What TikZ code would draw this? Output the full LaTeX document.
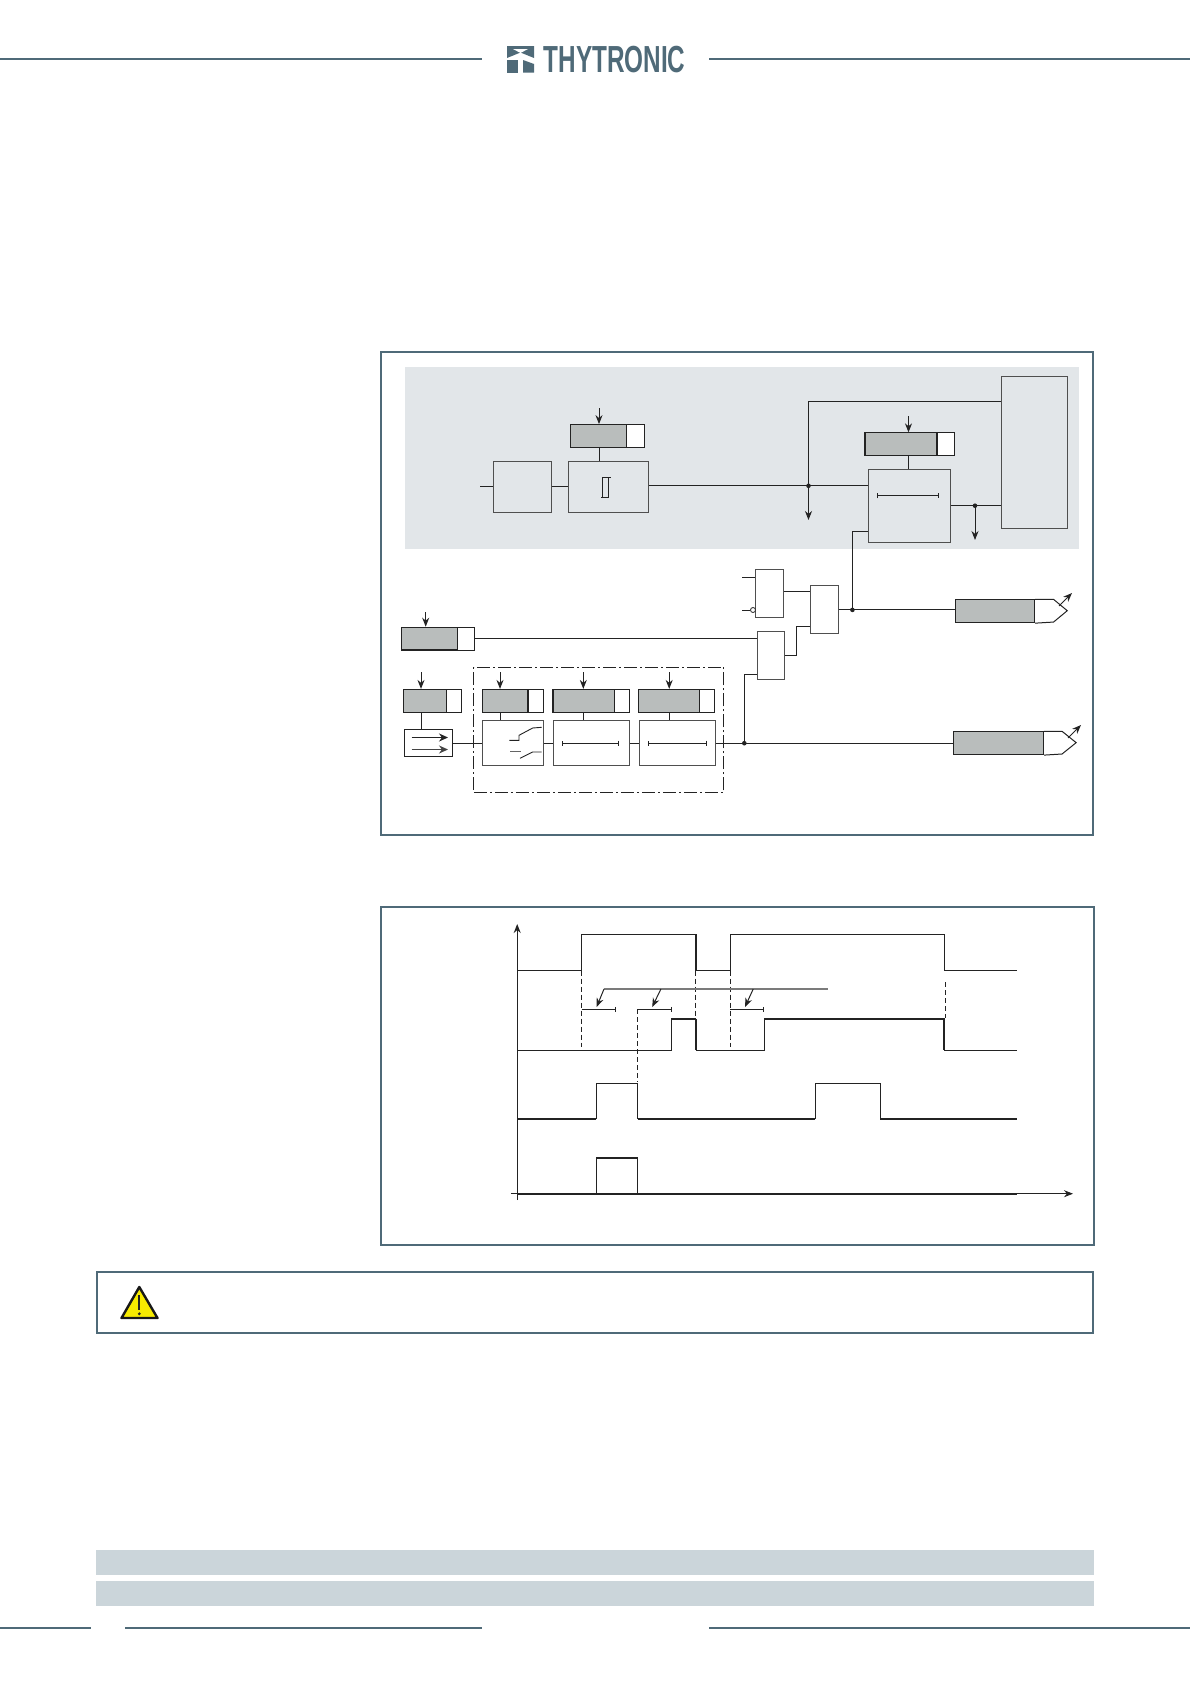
\documentclass[tikz,border=0pt]{standalone}
\usepackage{fontspec}
\setmainfont{Liberation Sans}
\usetikzlibrary{arrows.meta, positioning}
\definecolor{thyslate}{RGB}{79,106,120}
\definecolor{thypanel}{RGB}{226,230,233}
\definecolor{thyband}{RGB}{203,213,218}
\definecolor{thyset}{RGB}{185,189,188}
\definecolor{thyline}{RGB}{35,35,35}
\definecolor{thyyellow}{RGB}{246,234,0}

\begin{document}
\begin{tikzpicture}[
  x=1pt, y=-1pt,
  rule/.style={line width=1.8pt, draw=thyslate},
  frame/.style={rectangle, draw=thyslate, line width=2pt, inner sep=0pt},
  block/.style={rectangle, draw=thyline!80, fill=white, line width=1pt, inner sep=0pt},
  panelblock/.style={block, fill=thypanel},
  setgray/.style={rectangle, draw=thyline, fill=thyset, line width=1.1pt, inner sep=0pt, minimum height=22.7},
  setwhite/.style={rectangle, draw=thyline, fill=white, line width=.9pt, inner sep=0pt, minimum height=22.7},
  conn/.style={line width=1pt, draw=thyline},
  arrow/.style={conn, -{Stealth[length=9pt, width=7pt]}},
  tbar/.style={line width=.9pt, draw=thyline, {Bar[width=5pt]}-{Bar[width=5pt]}},
  junct/.style={circle, fill=thyline, inner sep=0pt, minimum size=4.6},
  pulse/.style={line width=1.1pt, draw=thyline},
  heavy/.style={line width=2pt, draw=thyline},
  guide/.style={line width=.9pt, draw=thyline, dash pattern=on 5pt off 3pt}
]
\useasboundingbox (0,0) rectangle (1190,1684);

% Header and logo
\draw[rule] (0,59) -- (482,59);
\draw[rule] (709,59) -- (1190,59);
\fill[thyslate] (507,46) -- (534,46) -- (534,58) -- (520.5,52.5) -- (507,58) -- cycle;
\fill[white] (513,49) -- (528,49) -- (520.5,53) -- cycle;
\fill[thyslate] (507,59.5) rectangle (518,72.5);
\fill[thyslate] (523,60) -- (534,64) -- (534,72.5) -- (523,72.5) -- cycle;
\node[text=thyslate, font=\fontsize{37.7}{38}\selectfont\bfseries, xscale=.645, inner sep=0pt] (logo) at (614.5,59.5) {THYTRONIC};

% Upper frame
\node[frame, minimum width=712.4, minimum height=483] (top) at (737,593) {};
\node[rectangle, fill=thypanel, inner sep=0pt, minimum width=674, minimum height=182.4] (panel) at (742,458.2) {};

% Measuring part
\node[panelblock, minimum width=66.5, minimum height=152] (tall) at (1034.6,452.4) {};
\node[panelblock, minimum width=58, minimum height=51.5] (inp) at (522.7,487) {};
\node[panelblock, minimum width=79.8, minimum height=51.5] (thr) at (608.6,487) {};
\node[setgray, minimum width=56.2] (setthr) at (598.7,436) {};
\node[setwhite, minimum width=17.9] (setthrw) at (635.75,436) {};
\node[panelblock, minimum width=82.2, minimum height=73.1] (dly) at (909.5,506.15) {};
\node[setgray, minimum width=72] (setdly) at (901,444.25) {};
\node[setwhite, minimum width=17] (setdlyw) at (945.5,444.25) {};

\coordinate (s0) at (480,486.5);
\coordinate (t1) at (808.5,401.8);
\coordinate (j1) at (808.5,485.8);
\coordinate (a1) at (808.5,520);
\coordinate (j3) at (975,505.7);
\coordinate (a3) at (975,540);
\coordinate (c1) at (599,408);
\coordinate (c2) at (908.5,416);

\draw[conn] (s0) -- (s0 -| inp.west);
\draw[conn] (s0 -| inp.east) -- (s0 -| thr.west);
\draw[conn] (j1 -| thr.east) -- (j1 -| dly.west);
\draw[conn] (tall.west |- t1) -- (t1) -- (j1);
\draw[arrow] (j1) -- (a1);
\draw[conn] (dly.east |- j3) -- (tall.west |- j3);
\draw[arrow] (j3) -- (a3);
\draw[arrow] (c1) -- (c1 |- setthr.north);
\draw[conn] (c1 |- setthr.south) -- (c1 |- thr.north);
\draw[arrow] (c2) -- (c2 |- setdly.north);
\draw[conn] (c2 |- setdly.south) -- (c2 |- dly.north);
\node[junct] (dot1) at (j1) {};
\node[junct] (dot3) at (j3) {};

% Threshold and delay marks
\draw[line width=.9pt, draw=thyline] (610.7,477.6) -- (602.7,477.6) -- (602.7,497.4);
\draw[line width=.9pt, draw=thyline] (601.2,497.4) -- (608.3,497.4) -- (608.3,477.6);
\draw[tbar] (877.4,495.8) -- (938.8,495.8);

% Logic gates
\node[block, minimum width=27.9, minimum height=48.4] (and1) at (769.55,593.7) {};
\node[block, minimum width=27.8, minimum height=48.4] (or1) at (824.3,609.2) {};
\node[block, minimum width=27.4, minimum height=48] (and2) at (770.7,655.8) {};
\node[circle, draw=thyline, fill=white, line width=.8pt, inner sep=0pt, minimum size=5] (neg) at (753,610) {};

\coordinate (s1) at (742.4,577.8);
\coordinate (s2) at (742.4,610);
\coordinate (n1) at (796,591.8);
\coordinate (n2) at (796.7,626.2);
\coordinate (n3) at (757,674);
\coordinate (j2) at (744.3,743.2);
\coordinate (j4) at (852.4,609.9);
\coordinate (d1) at (868.4,531);

\draw[conn] (s1) -- (s1 -| and1.west);
\draw[conn] (s2) -- (neg.west);
\draw[conn] (n1 -| and1.east) -- (n1 -| or1.west);
\draw[conn] (and2.east) -| (n2) -- (n2 -| or1.west);
\draw[conn] (j4 -| or1.east) -- (j4);
\draw[conn] (j4) |- (d1);
\draw[conn] (j2) |- (n3);
\node[junct] (dot4) at (j4) {};
\node[junct] (dot2) at (j2) {};

% Blocking inputs
\node[setgray, minimum width=55.7] (setblk) at (429.45,638.6) {};
\node[setwhite, minimum width=17.5] (setblkw) at (466.05,638.6) {};
\node[setgray, minimum width=43] (setsrc) at (425,700.8) {};
\node[setwhite, minimum width=15.1] (setsrcw) at (454.05,700.8) {};
\node[block, draw=thyline, minimum width=48.1, minimum height=27.4] (src) at (428.55,743.2) {};

\coordinate (c3) at (425.7,612);
\coordinate (c4) at (421,672);
\coordinate (c5) at (500,672);
\coordinate (c6) at (583.3,672);
\coordinate (c7) at (669.2,672);

\draw[arrow] (c3) -- (c3 |- setblk.north);
\draw[conn] (setblkw.east) -- (setblkw.east -| and2.west);
\draw[arrow] (c4) -- (c4 |- setsrc.north);
\draw[conn] (c4 |- setsrc.south) -- (c4 |- src.north);
\draw[-{Stealth[length=9pt, width=8pt]}, line width=1pt, thyline] (411.5,737.5) -- (448,737.5);
\draw[-{Stealth[length=9pt, width=8pt]}, line width=1pt, thyline!85] (411.5,749.5) -- (448,749.5);

% Breaker failure chain
\node[rectangle, draw=thyline, line width=1pt, dash pattern=on 13pt off 3pt on 2pt off 3pt, inner sep=0pt, minimum width=249.7, minimum height=125.6] (chain) at (598.65,729.8) {};
\node[block, minimum width=60.9, minimum height=44.6] (swi) at (513.25,743.2) {};
\node[block, minimum width=76, minimum height=44.6] (tim1) at (591.6,743.2) {};
\node[block, minimum width=75.5, minimum height=44.6] (tim2) at (677.25,743.2) {};
\node[setgray, minimum width=45.2] (setswi) at (505.4,700.8) {};
\node[setwhite, minimum width=15.7] (setswiw) at (535.85,700.8) {};
\node[setgray, minimum width=61.5] (settim1) at (583.75,700.8) {};
\node[setwhite, minimum width=15.1] (settim1w) at (622.05,700.8) {};
\node[setgray, minimum width=60.9] (settim2) at (669.05,700.8) {};
\node[setwhite, minimum width=15.1] (settim2w) at (707.05,700.8) {};

\draw[conn] (src.east) -- (swi.west);
\draw[conn] (swi.east) -- (tim1.west);
\draw[conn] (tim1.east) -- (tim2.west);
\draw[arrow] (c5) -- (c5 |- setswi.north);
\draw[conn] (c5 |- setswi.south) -- (c5 |- swi.north);
\draw[arrow] (c6) -- (c6 |- settim1.north);
\draw[conn] (c6 |- settim1.south) -- (c6 |- tim1.north);
\draw[arrow] (c7) -- (c7 |- settim2.north);
\draw[conn] (c7 |- settim2.south) -- (c7 |- tim2.north);
\draw[tbar] (561.6,743.2) -- (618.7,743.2);
\draw[tbar] (647.5,743.2) -- (706.5,743.2);

% Contact marks
\draw[line width=.9pt, thyline] (509.3,740.3) -- (519,740.3) -- (519,735.3) -- (532.7,728) -- (541.7,727.3);
\draw[line width=.9pt, thyline!70] (510,751.3) -- (521,751.3);
\draw[line width=.9pt, thyline] (520,758.3) -- (532.7,752) -- (541.7,752);

% Outputs
\node[setgray, minimum width=78.9] (out1) at (995.15,611.25) {};
\node[setgray, minimum width=90.1] (out2) at (998.45,743.2) {};
\draw[conn] (j4) -- (j4 -| out1.west);
\draw[conn] (tim2.east) -- (out2.west);
\draw[conn] (out1.north east) -- ++(18.4,0) -- ++(13.7,11.35) -- ++(-13.7,11.35) -- (out1.south east);
\draw[conn] (out2.north east) -- ++(18,0) -- ++(14.1,11.35) -- ++(-14.1,11.35) -- (out2.south east);
\draw[arrow] (1059,606) -- (1072,593);
\draw[arrow] (1068,738) -- (1081,725);

% Lower frame
\node[frame, minimum width=713.5, minimum height=338.4] (tim) at (737.25,1075.8) {};

% Axes
\coordinate (ox) at (510.8,1193.7);
\coordinate (ex) at (1073,1193.7);
\coordinate (oy) at (517.2,1200);
\coordinate (ey) at (517.2,924);
\draw[arrow] (ox) -- (ex);
\draw[arrow] (oy) -- (ey);

% Traces
\draw[pulse] (517.2,970.7) -- (581.5,970.7) -- (581.5,934.3) -- (695.8,934.3);
\draw[heavy] (695.8,934.3) -- (695.8,970.7);
\draw[pulse] (695.8,970.7) -- (730.2,970.7) -- (730.2,934.3) -- (944.1,934.3) -- (944.1,970.7) -- (1016.6,970.7);
\draw[pulse] (517.2,1050.4) -- (671.5,1050.4) -- (671.5,1019) -- (695.8,1019);
\draw[heavy] (695.8,1019) -- (695.8,1050.4);
\draw[pulse] (695.8,1050.4) -- (764.2,1050.4) -- (764.2,1019);
\draw[heavy] (764.2,1019) -- (944.1,1019) -- (944.1,1050.4);
\draw[pulse] (944.1,1050.4) -- (1016.6,1050.4);
\draw[heavy] (517.2,1118.7) -- (596.2,1118.7);
\draw[pulse] (596.2,1118.7) -- (596.2,1083.4) -- (637.5,1083.4) -- (637.5,1118.7);
\draw[heavy] (637.5,1118.7) -- (815.1,1118.7);
\draw[pulse] (815.1,1118.7) -- (815.1,1083.4) -- (880.3,1083.4) -- (880.3,1118.7);
\draw[heavy] (880.3,1118.7) -- (1016.6,1118.7);
\draw[heavy] (517.2,1193.7) -- (1016.6,1193.7);
\draw[pulse] (596.2,1193.7) -- (596.2,1157.7);
\draw[heavy] (596.2,1157.7) -- (637.5,1157.7);
\draw[pulse] (637.5,1157.7) -- (637.5,1193.7);

% Dashed guides
\draw[guide] (581.5,970.7) -- (581.5,1047);
\draw[guide] (637.5,1009.4) -- (637.5,1082);
\draw[guide] (695.8,970.7) -- (695.8,1018.4);
\draw[guide] (730.2,970.7) -- (730.2,1047);
\draw[guide] (945,982) -- (945,1018.4);

% Delay intervals
\draw[line width=1.2pt, thyline!60] (604,989) -- (827.5,989);
\draw[arrow] (604,989) -- (596.6,1007);
\draw[arrow] (660.9,989) -- (652.2,1007);
\draw[arrow] (753.2,989) -- (745,1007);
\draw[line width=.9pt, thyline, -{Bar[width=5pt]}] (581.5,1009.4) -- (615.5,1009.4);
\draw[line width=.9pt, thyline, -{Bar[width=5pt]}] (637.5,1009.4) -- (671.5,1009.4);
\draw[line width=.9pt, thyline, -{Bar[width=5pt]}] (730.2,1009.4) -- (764.2,1009.4);

% Warning box
\node[frame, minimum width=996.6, minimum height=61.4] (note) at (595,1302.3) {};
\draw[draw=thyline!70!black, fill=thyyellow, line width=2.4pt, line join=round] (139.3,1287) -- (157.5,1318) -- (121.5,1318) -- cycle;
\draw[line width=1.9pt, thyline] (139.3,1295) -- (139.3,1309.5);
\fill[thyline] (139.3,1313.8) circle (1.6);

% Footer
\fill[thyband] (95.6,1550) rectangle (1094.4,1575);
\fill[thyband] (95.6,1581) rectangle (1094.4,1605.7);
\draw[rule] (0,1628) -- (91,1628);
\draw[rule] (125,1628) -- (482,1628);
\draw[rule] (709,1628) -- (1190,1628);

\end{tikzpicture}
\end{document}
